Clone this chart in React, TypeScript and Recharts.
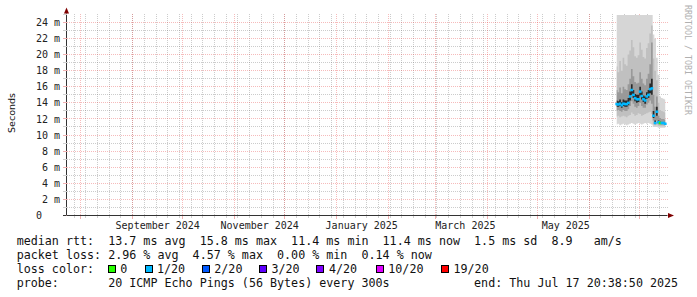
import { ComposedChart, Area, Scatter, XAxis, YAxis, CartesianGrid } from 'recharts';

// one consolidated value per day, Jun 17 - Jul 16 2025 (ms)
const days = [
  '2025-06-17', '2025-06-18', '2025-06-19', '2025-06-20', '2025-06-21', '2025-06-22',
  '2025-06-23', '2025-06-24', '2025-06-25', '2025-06-26', '2025-06-27', '2025-06-28',
  '2025-06-29', '2025-06-30', '2025-07-01', '2025-07-02', '2025-07-03', '2025-07-04',
  '2025-07-05', '2025-07-06', '2025-07-07', '2025-07-08', '2025-07-09', '2025-07-10',
  '2025-07-11', '2025-07-12', '2025-07-13', '2025-07-14', '2025-07-15', '2025-07-16',
];

const median = [
  13.85, 13.8, 13.9, 13.7, 13.9, 13.85, 13.85, 14.0, 14.8, 15.6, 15.0, 14.6, 14.45, 14.45, 15.4,
  14.85, 14.45, 14.3, 14.8, 15.0, 15.7, 15.8, 12.4, 11.5, 12.9, 11.6, 11.5, 11.5, 11.5, 11.4,
];

// lost pings out of 20
const lostPings = [
  1, 1, 1, 1, 1, 1, 1, 1, 1, 1, 1, 1, 1, 1, 1,
  1, 1, 1, 1, 1, 1, 1, 1, 1, 1, 1, 0, 1, 1, 1,
];

// smoke: spread of the 20 pings
const pingMin = [
  11.3, 11.4, 11.2, 11.3, 11.4, 11.3, 11.2, 11.3,
  11.4, 11.5, 11.4, 11.3, 11.4, 11.5, 11.4, 11.3, 11.4, 11.5, 11.4, 11.5, 11.4, 11.3,
  11.0, 11.0, 11.0, 10.9, 10.9, 10.9, 10.9, 10.9,
];
const ping10 = [
  12.3, 12.4, 12.2, 12.3, 12.4, 12.3, 12.2, 12.4,
  12.5, 12.8, 12.6, 12.4, 12.5, 12.7, 12.6, 12.4, 12.5, 12.6, 12.7, 12.8, 12.9, 12.6,
  11.3, 11.2, 11.3, 11.15, 11.1, 11.1, 11.1, 11.05,
];
const ping25 = [
  13.0, 13.1, 13.0, 12.9, 13.1, 13.0, 13.0, 13.2,
  13.6, 14.2, 13.9, 13.5, 13.4, 13.6, 14.0, 13.6, 13.4, 13.4, 13.8, 14.0, 14.3, 13.9,
  11.8, 11.35, 11.8, 11.35, 11.3, 11.3, 11.3, 11.25,
];
const ping40 = [
  13.5, 13.5, 13.6, 13.4, 13.6, 13.5, 13.5, 13.7,
  14.3, 15.0, 14.6, 14.2, 14.0, 14.1, 14.9, 14.4, 14.1, 13.9, 14.5, 14.6, 15.2, 15.0,
  12.1, 11.45, 12.4, 11.5, 11.45, 11.45, 11.45, 11.35,
];
const ping60 = [
  14.3, 14.2, 14.4, 14.1, 14.4, 14.3, 14.3, 14.6,
  15.4, 16.3, 15.6, 15.1, 15.0, 15.0, 16.0, 15.4, 14.9, 14.8, 15.3, 15.6, 16.4, 17.0,
  13.0, 11.8, 13.5, 11.8, 11.65, 11.6, 11.6, 11.55,
];
const ping75 = [
  15.6, 15.3, 15.9, 15.2, 16.0, 15.7, 15.6, 16.3,
  17.0, 18.2, 17.3, 16.6, 16.4, 16.5, 17.8, 17.0, 16.4, 16.2, 17.0, 17.6, 18.8, 21.5,
  15.0, 13.5, 14.8, 12.4, 12.1, 12.0, 12.0, 11.9,
];
const ping90 = [
  18.5, 17.8, 19.2, 18.0, 19.6, 18.8, 18.6, 20.0,
  20.5, 21.8, 20.9, 19.8, 19.6, 19.9, 21.5, 20.6, 19.7, 19.5, 20.8, 21.4, 22.6, 23.6,
  19.5, 18.0, 16.8, 14.0, 13.1, 13.0, 12.9, 12.8,
];
const pingMax = [
  24.9, 24.9, 24.9, 24.9, 24.9, 24.9, 24.9, 24.9,
  24.9, 24.9, 24.9, 24.9, 24.9, 24.9, 24.9, 24.9, 24.9, 24.9, 24.9, 24.9, 24.9, 24.9,
  22.5, 22.0, 19.6, 17.5, 14.8, 14.6, 14.5, 14.4,
];

const monthLabels = ['September 2024', 'November 2024', 'January 2025', 'March 2025', 'May 2025'];
const monthLabelDates = ['2024-09-16', '2024-11-16', '2025-01-16', '2025-03-19', '2025-05-18'];

const lossLegend = [
  { label: '0', pings: 0, color: '#26ff00' },
  { label: '1/20', pings: 1, color: '#00b8ff' },
  { label: '2/20', pings: 2, color: '#0059ff' },
  { label: '3/20', pings: 3, color: '#5e00ff' },
  { label: '4/20', pings: 4, color: '#7e00ff' },
  { label: '10/20', pings: 10, color: '#dd00ff' },
  { label: '19/20', pings: 19, color: '#ff0000' },
];

const legendLines = [
  'median rtt:  13.7 ms avg  15.8 ms max  11.4 ms min  11.4 ms now  1.5 ms sd  8.9   am/s',
  'packet loss: 2.96 % avg  4.57 % max  0.00 % min  0.14 % now',
  'loss color:',
  'probe:       20 ICMP Echo Pings (56 Bytes) every 300s            end: Thu Jul 17 20:38:50 2025',
];

const MONO = "'DejaVu Sans Mono', monospace";
const dayOf = (s: string) => (Date.parse(s) - Date.parse('2024-08-01')) / 86400000;
const END = dayOf('2025-07-17') + (20 * 3600 + 38 * 60 + 50) / 86400;
const START = END - 359.42;

const rows = days.map((d, i) => ({
  t: dayOf(d) + 0.5,
  median: median[i],
  loss: lostPings[i],
  outer: [pingMin[i], pingMax[i]],
  b90: [ping10[i], ping90[i]],
  b75: [ping25[i], ping75[i]],
  b60: [ping40[i], ping60[i]],
}));

// grid: weekly minor lines (Sundays), monthly major lines
const weekTicks: number[] = [];
for (let d = dayOf('2024-07-28'); d <= END; d += 7) weekTicks.push(d);
const monthStarts: number[] = [];
for (let m = 7; m <= 18; m++) monthStarts.push(dayOf(new Date(Date.UTC(2024, m, 1)).toISOString().slice(0, 10)));
const labelDays = monthLabelDates.map(dayOf);
const xTicks = Array.from(new Set([...weekTicks, ...monthStarts, ...labelDays]));

const yTicks = Array.from({ length: 26 }, (_, i) => i);
const minorY = yTicks.filter((v) => v % 2 === 1 && v < 25);
const majorY = yTicks.filter((v) => v % 2 === 0 && v > 0 && v <= 24);

const lossColor = (n: number) => (lossLegend.find((l) => l.pings >= n) || lossLegend[6]).color;

function XTick(props: any) {
  const { x, payload } = props;
  const idx = labelDays.indexOf(payload.value);
  if (idx >= 0) {
    return (
      <text x={x} y={229} textAnchor="middle" fontFamily={MONO} fontSize={10} fill="#222">
        {monthLabels[idx]}
      </text>
    );
  }
  const major = monthStarts.includes(payload.value);
  return (
    <line x1={x} x2={x} y1={216} y2={major ? 219 : 218} stroke={major ? '#efb0b0' : '#d0d0d0'} shapeRendering="crispEdges" />
  );
}

function YTick(props: any) {
  const { y, payload } = props;
  const v = payload.value;
  const major = v % 2 === 0;
  return (
    <g>
      <line x1={63} x2={66.5} y1={y} y2={y} stroke={major ? '#efb0b0' : '#d0d0d0'} shapeRendering="crispEdges" />
      {major && v <= 24 && (
        <text x={60} y={y + 3.6} textAnchor="end" fontFamily={MONO} fontSize={10} fill="#222" style={{ whiteSpace: 'pre' }}>
          {v === 0 ? '0   ' : `${v} m`}
        </text>
      )}
    </g>
  );
}

function MedianMark(props: any) {
  const { cx, cy, payload } = props;
  return <rect x={cx - 1.4} y={cy - 1.2} width={2.8} height={2.5} fill={lossColor(payload.loss)} />;
}

const smoke = [
  { key: 'outer', fill: '#d6d6d6' },
  { key: 'b90', fill: '#c0c0c0' },
  { key: 'b75', fill: '#999999' },
  { key: 'b60', fill: '#2a2a2a' },
];

export default function App() {
  return (
    <div style={{ position: 'relative', width: 697, height: 297, background: '#fff' }}>
      <style>{'body{margin:0}'}</style>
      <ComposedChart width={697} height={297} data={rows} margin={{ top: 13.5, right: 29.5, bottom: 51.5, left: 6.5 }}>
        <XAxis
          dataKey="t"
          type="number"
          domain={[START, END]}
          allowDataOverflow
          ticks={xTicks}
          interval={0}
          tick={XTick}
          tickLine={false}
          axisLine={{ stroke: '#333' }}
          height={30}
        />
        <YAxis
          type="number"
          domain={[0, 25.1]}
          allowDataOverflow
          ticks={yTicks}
          interval={0}
          tick={YTick}
          tickLine={false}
          axisLine={{ stroke: '#333' }}
          width={60}
        />
        {smoke.map((s) => (
          <Area
            key={s.key}
            dataKey={s.key}
            type="step"
            stroke="none"
            fill={s.fill}
            fillOpacity={1}
            isAnimationActive={false}
            dot={false}
            activeDot={false}
          />
        ))}
        <CartesianGrid
          verticalValues={weekTicks}
          horizontalValues={minorY}
          stroke="rgba(120,120,120,0.38)"
          strokeDasharray="1 1"
          shapeRendering="crispEdges"
          fill="none"
        />
        <CartesianGrid
          verticalValues={monthStarts}
          horizontalValues={majorY}
          stroke="rgba(230,60,60,0.35)"
          strokeDasharray="1 1"
          shapeRendering="crispEdges"
          fill="none"
        />
        <Scatter dataKey="median" shape={MedianMark} isAnimationActive={false} />
      </ComposedChart>

      <svg width={697} height={297} style={{ position: 'absolute', left: 0, top: 0, pointerEvents: 'none' }}>
        <line x1={63} x2={66.5} y1={215.5} y2={215.5} stroke="#333" />
        <polygon points="66.5,7.5 64,13.5 69,13.5" fill="#7f0000" />
        <polygon points="674,215.5 668,213 668,218" fill="#7f0000" />
        <text
          x={14.5}
          y={113}
          transform="rotate(-90 14.5 113)"
          textAnchor="middle"
          fontFamily="'DejaVu Sans', sans-serif"
          fontSize={9.5}
          fill="#111"
        >
          Seconds
        </text>
        <text x={685} y={5} transform="rotate(90 685 5)" fontFamily={MONO} fontSize={8.3} fill="#b0b0b0">
          RRDTOOL / TOBI OETIKER
        </text>
        {legendLines.map((line, i) => (
          <text
            key={i}
            x={16.7}
            y={244.5 + i * 14.07}
            fontFamily={MONO}
            fontSize={11.7}
            fill="#111"
            xmlSpace="preserve"
            style={{ whiteSpace: 'pre' }}
          >
            {line}
          </text>
        ))}
        {lossLegend.map((l, i) => {
          const tx = [120.3, 157, 214.3, 271.5, 328.9, 388.3, 453.5][i];
          return (
            <g key={l.label}>
              <rect x={Math.round(tx - 12.5) + 0.5} y={265.5} width={7} height={7} fill={l.color} stroke="#000" />
              <text x={tx} y={272.7} fontFamily={MONO} fontSize={11.7} fill="#111">
                {l.label}
              </text>
            </g>
          );
        })}
      </svg>
    </div>
  );
}
